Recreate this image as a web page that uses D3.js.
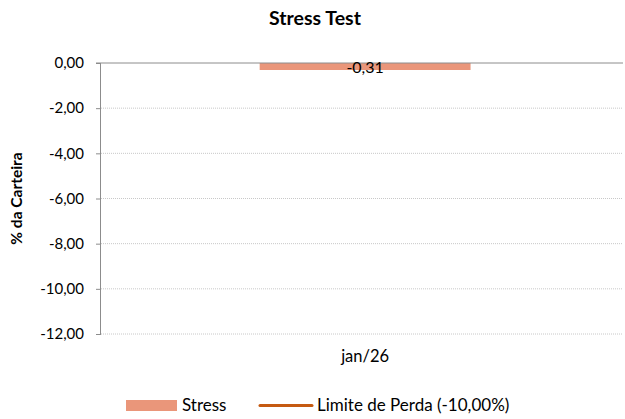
<!DOCTYPE html>
<html lang="pt">
<head>
    <meta charset="UTF-8">
    <title>Stress Test</title>
    <script src="https://d3js.org/d3.v7.min.js"></script>
    <style>
        body { margin: 0; background: #fff; font-family: Lato, "Open Sans", sans-serif; }
    </style>
</head>
<body>
    <svg width="625" height="419"></svg>

    <script>
        // Chart data
        const categories = ["jan/26"];
        const stressValues = [-0.31];
        const yTicks = [0, -2, -4, -6, -8, -10, -12];
        const legendLabels = ["Stress", "Limite de Perda (-10,00%)"];

        const barColor = "#ea967a";
        const limitColor = "#c55a11";
        const fmt = v => d3.format(".2f")(v).replace(".", ",").replace("−", "-");

        const margin = { top: 63, right: 2, bottom: 85, left: 101 },
              width = 625 - margin.left - margin.right,
              height = 419 - margin.top - margin.bottom;

        const root = d3.select("svg");
        const svg = root.append("g")
                        .attr("transform", `translate(${margin.left},${margin.top})`);

        const x = d3.scaleBand()
                    .domain(categories)
                    .range([0, width])
                    .paddingInner(0.596)
                    .paddingOuter(0.298)
                    .align(0.51);

        const y = d3.scaleLinear()
                    .domain([0, -12])
                    .range([0, height]);

        // Title
        root.append("text")
            .attr("x", 315)
            .attr("y", 25)
            .attr("text-anchor", "middle")
            .style("font-size", "19.5px")
            .style("font-weight", "bold")
            .text("Stress Test");

        // Gridlines
        svg.selectAll(".grid")
           .data(yTicks.filter(t => t !== 0))
           .enter()
           .append("line")
           .attr("x1", 0)
           .attr("x2", width)
           .attr("y1", d => y(d))
           .attr("y2", d => y(d))
           .attr("stroke", "#c8c8c8")
           .attr("stroke-dasharray", "1,1");

        // Y axis
        const yAxis = svg.append("g")
           .call(d3.axisLeft(y).tickValues(yTicks).tickFormat(fmt).tickSize(5).tickPadding(12));
        yAxis.select(".domain").attr("stroke", "#8c8c8c").attr("d", `M-0.5,0V${height}`);
        yAxis.selectAll(".tick line").attr("stroke", "#8c8c8c");
        yAxis.selectAll(".tick text")
             .style("font-size", "15px")
             .style("font-family", "Lato, sans-serif")
             .attr("fill", "#000");

        // Y title
        root.append("text")
            .attr("transform", `translate(22,${margin.top + height / 2}) rotate(-90)`)
            .attr("text-anchor", "middle")
            .style("font-size", "15.5px")
            .style("font-weight", "bold")
            .text("% da Carteira");

        // Bars
        svg.selectAll(".bar")
           .data(stressValues)
           .enter()
           .append("rect")
           .attr("x", (d, i) => x(categories[i]))
           .attr("y", d => y(Math.max(0, d)))
           .attr("width", x.bandwidth())
           .attr("height", d => Math.abs(y(d) - y(0)))
           .attr("fill", barColor);

        // Zero line
        svg.append("line")
           .attr("x1", -5)
           .attr("x2", width)
           .attr("y1", y(0))
           .attr("y2", y(0))
           .attr("stroke", "#8c8c8c");

        // Bar labels
        svg.selectAll(".label")
           .data(stressValues)
           .enter()
           .append("text")
           .attr("x", (d, i) => x(categories[i]) + x.bandwidth() / 2)
           .attr("y", d => y(d) + 3)
           .attr("text-anchor", "middle")
           .style("font-size", "16px")
           .text(d => fmt(d));

        // Category labels
        svg.selectAll(".cat")
           .data(categories)
           .enter()
           .append("text")
           .attr("x", d => x(d) + x.bandwidth() / 2)
           .attr("y", height + 28)
           .attr("text-anchor", "middle")
           .style("font-size", "16.5px")
           .text(d => d);

        // Legend
        const legend = root.append("g");
        legend.append("rect")
              .attr("x", 126).attr("y", 400)
              .attr("width", 51).attr("height", 11)
              .attr("fill", barColor);
        legend.append("text")
              .attr("x", 182).attr("y", 411)
              .style("font-size", "17px")
              .text(legendLabels[0]);
        legend.append("line")
              .attr("x1", 260).attr("x2", 312)
              .attr("y1", 405.5).attr("y2", 405.5)
              .attr("stroke", limitColor)
              .attr("stroke-width", 3)
              .attr("stroke-linecap", "round");
        legend.append("text")
              .attr("x", 317).attr("y", 411)
              .style("font-size", "17px")
              .text(legendLabels[1]);
    </script>
</body>
</html>
